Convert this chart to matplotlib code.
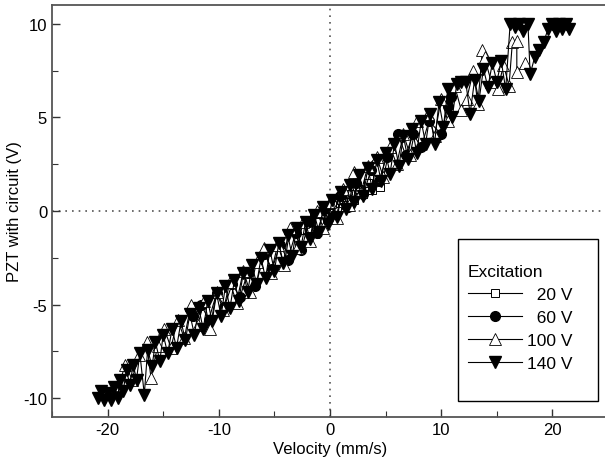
import matplotlib
matplotlib.use("Agg")
import matplotlib.pyplot as plt
from matplotlib.patches import Rectangle
from matplotlib.ticker import MultipleLocator

plt.rcParams['font.family'] = ['Liberation Sans', 'DejaVu Sans']
plt.rcParams['axes.unicode_minus'] = False

# values (velocity mm/s, PZT voltage V)
v20 = [-2.6, -2.2, -1.8, -1.4, -1.0, -0.6, -0.2, 0.2, 0.6, 1.0, 1.4, 1.8, 2.2, 2.6,
       3.0, 3.4, 3.8, 4.2, 4.5]
u20 = [-1.0, -0.5, -0.9, -0.3, -0.6, 0.0, -0.3, 0.3, 0.0, 0.6, 0.3, 0.9, 0.6, 1.2,
       0.9, 1.5, 1.1, 1.7, 1.3]

v60 = [-12.3, -11.6, -10.9, -10.2, -9.5, -8.8, -8.1, -7.4, -6.7, -5.9, -5.2, -4.5,
       -3.8, -3.1, -2.6, -1.9, -1.2, -0.5, 0.2, 0.9, 1.6, 2.3, 3.0, 3.7, 4.4, 5.1,
       6.1, 6.8, 7.5, 8.2, 8.9, 10.0, 10.6, 10.9]
u60 = [-5.6, -5.0, -5.8, -4.4, -5.1, -3.9, -4.6, -3.3, -4.0, -2.3, -3.1, -1.8,
       -2.6, -1.2, -2.1, -0.6, -1.2, 0.1, -0.3, 0.8, 0.2, 1.5, 0.9, 2.2, 1.6, 2.9,
       4.1, 3.0, 4.1, 3.4, 4.8, 4.1, 5.6, 6.1]

v100 = [-19.0, -18.4, -17.8, -17.2, -16.5, -16.1, -15.5, -14.9, -14.3, -13.7, -13.1,
        -12.5, -11.9, -11.3, -10.8, -10.2, -9.6, -9.0, -8.4, -7.8, -7.2, -6.6, -5.9,
        -5.3, -4.7, -4.1, -3.6, -3.0, -2.4, -1.8, -1.2, -0.6, 0.0, 0.6, 1.2, 1.7,
        2.2, 2.8, 3.4, 4.2, 4.8, 5.4, 6.0, 6.6, 7.2, 7.8, 8.8, 9.4, 10.0, 10.6,
        11.2, 11.8, 12.3, 12.9, 13.3, 13.7, 13.9, 14.5, 15.1, 15.6, 16.1, 16.4,
        16.8, 16.8, 17.5]
u100 = [-9.3, -8.2, -9.0, -7.7, -7.0, -8.9, -7.2, -6.3, -7.3, -5.8, -6.8,
        -5.0, -6.1, -4.8, -6.3, -4.3, -5.3, -3.8, -4.9, -3.2, -4.3, -2.7, -2.0,
        -3.3, -1.8, -2.9, -0.9, -2.0, -0.6, -1.6, 0.0, -0.9, 0.5, -0.4, 1.2, 0.3,
        2.1, 1.0, 2.4, 2.9, 1.8, 3.4, 2.5, 4.1, 3.0, 4.8, 5.2, 4.0, 6.0, 4.8,
        6.7, 5.4, 6.0, 7.5, 5.7, 8.6, 8.2, 6.9, 6.5, 7.8, 6.7, 9.0,
        9.1, 7.4, 7.9]

v140 = [-20.9, -20.6, -20.3, -20.0, -19.7, -19.4, -19.1, -18.9, -18.6, -18.3, -18.0,
        -17.7, -17.4, -17.1, -16.7, -16.4, -16.0, -15.7, -15.3, -15.0, -14.6, -14.2,
        -13.8, -13.4, -13.0, -12.6, -12.2, -11.8, -11.4, -11.0, -10.6, -10.2, -9.8,
        -9.4, -9.0, -8.6, -8.2, -7.8, -7.4, -7.0, -6.6, -6.2, -5.8, -5.4, -5.0,
        -4.6, -4.2, -3.8, -3.4, -3.0, -2.6, -2.2, -1.8, -1.4, -1.0, -0.6, -0.2,
        0.2, 0.6, 1.0, 1.4, 1.8, 2.2, 2.6, 3.0, 3.4, 3.8, 4.2, 4.6, 5.0, 5.4, 5.8,
        6.2, 6.6, 7.0, 7.4, 7.8, 8.2, 8.6, 9.0, 9.4, 9.8, 10.2, 10.6, 11.0, 11.4,
        11.8, 12.2, 12.6, 13.0, 13.4, 13.8, 14.2, 14.6, 15.0, 15.4, 15.8, 16.2,
        16.6, 17.0, 17.4, 17.8, 18.0, 18.4, 18.8, 19.2, 19.6, 20.0, 20.3, 20.6,
        20.9, 21.2, 21.5]
u140 = [-10.0, -9.6, -10.1, -9.7, -10.1, -9.4, -10.0, -9.0, -9.6, -8.5, -9.3,
        -8.2, -9.0, -7.6, -9.8, -7.4, -8.3, -7.0, -8.0, -6.6, -7.6, -6.3,
        -7.3, -5.9, -6.9, -5.5, -6.6, -5.2, -6.3, -4.8, -5.9, -4.4, -5.6,
        -4.0, -5.2, -3.7, -4.8, -3.3, -4.3, -2.9, -3.9, -2.5, -3.6, -2.1, -3.2,
        -1.7, -2.8, -1.3, -2.4, -0.9, -1.9, -0.6, -1.5, -0.2, -1.1, 0.2, -0.7,
        0.6, -0.3, 1.0, 0.1, 1.4, 0.5, 1.9, 0.8, 2.3, 1.2, 2.7, 1.6, 3.1, 2.0, 3.6,
        2.4, 4.0, 2.8, 4.4, 3.1, 4.8, 3.6, 5.2, 3.6, 5.8, 4.5, 6.5, 5.0, 6.8,
        6.9, 6.9, 5.2, 7.0, 5.9, 7.6, 6.6, 7.9, 6.9, 8.0, 6.5, 10.0,
        9.8, 10.0, 9.6, 10.0, 7.3, 8.2, 8.6, 9.0, 9.7, 10.0, 9.6, 10.0,
        9.7, 10.0, 9.7]

labels = ['  20 V', '  60 V', '100 V', '140 V']

fig = plt.figure(figsize=(6.05, 4.6), dpi=100)
ax = fig.add_axes([52 / 605, 42 / 460, 556 / 605, 412 / 460])

ax.axvline(0, color='#555555', lw=1.2, ls=(0, (1, 3)), zorder=1)
ax.axhline(0, color='#555555', lw=1.2, ls=(0, (1, 3)), zorder=1)

kw = dict(color='black', lw=0.8, mec='black')
h1, = ax.plot(v20, u20, marker='s', ms=6, mfc='white', mew=0.7, label=labels[0], **kw)
h2, = ax.plot(v60, u60, marker='o', ms=7, mfc='black', label=labels[1], **kw)
h3, = ax.plot(v100, u100, marker='^', ms=8.5, mfc='white', mew=0.6, label=labels[2], **kw)
h4, = ax.plot(v140, u140, marker='v', ms=8.5, mfc='black', label=labels[3], **kw)

ax.set_xlim(-25, 25)
ax.set_ylim(-11, 11)
ax.xaxis.set_major_locator(MultipleLocator(10))
ax.xaxis.set_minor_locator(MultipleLocator(5))
ax.yaxis.set_major_locator(MultipleLocator(5))
ax.yaxis.set_minor_locator(MultipleLocator(2.5))
ax.tick_params(which='both', direction='in', labelsize=12, color='#333333')
ax.tick_params(which='major', length=6, width=1)
ax.tick_params(which='minor', length=4, width=0.8)
for s in ax.spines.values():
    s.set_color('#555555')
    s.set_linewidth(1.3)

ax.set_xlabel('Velocity (mm/s)', fontsize=12, labelpad=3)
ax.set_ylabel('PZT with circuit (V)', fontsize=12, labelpad=1)

leg = ax.legend(handles=[h1, h2, h3, h4], title='Excitation', loc='upper left',
                bbox_to_anchor=(0.748, 0.372), frameon=False, fontsize=12.5,
                title_fontsize=12.5, borderpad=0, borderaxespad=0,
                handlelength=3.1, handletextpad=0.3, labelspacing=0.45,
                alignment='left')
ax.add_patch(Rectangle((0.730, 0.039), 0.252, 0.393, transform=ax.transAxes,
                       fill=False, ec='black', lw=1, zorder=5))

fig.savefig('out.png', dpi=100)
